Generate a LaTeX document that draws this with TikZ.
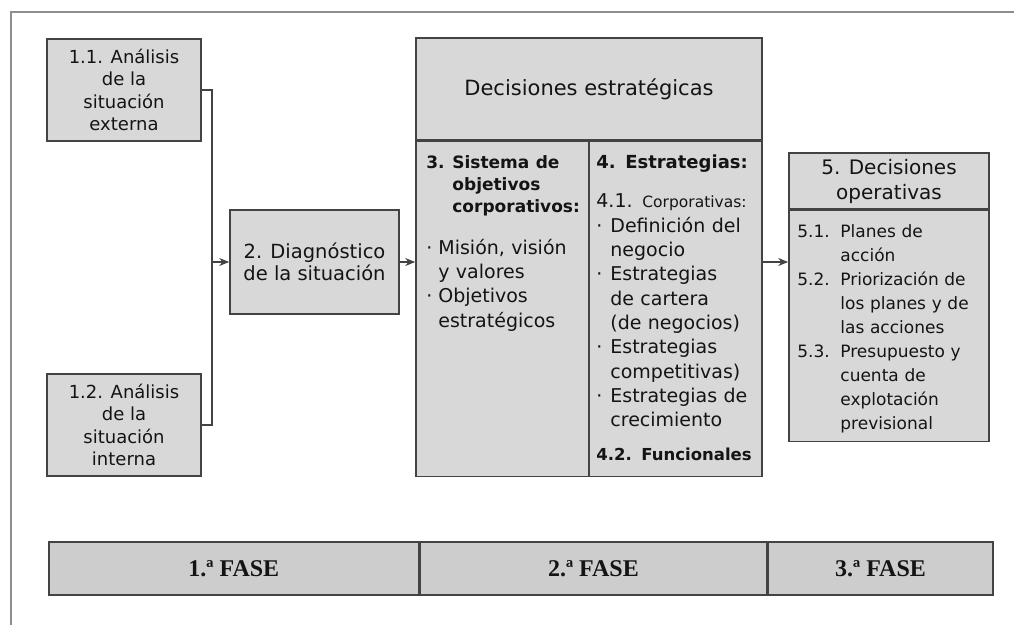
\documentclass[tikz,border=0pt]{standalone}
\usepackage{fontspec}
\setmainfont{DejaVu Sans}
\newfontfamily\phasefont{Liberation Serif}
\usetikzlibrary{arrows.meta,positioning,calc}
\definecolor{boxgray}{HTML}{D8D8D8}
\definecolor{bargray}{HTML}{CDCDCD}
\definecolor{edge}{HTML}{434343}
\definecolor{framegray}{HTML}{8E8E8E}
\definecolor{ink}{HTML}{141414}
\newcommand{\listline}[3]{\hangindent=#1\hangafter=1\noindent\makebox[#1][l]{#2}#3\par}
\newcommand{\headfont}{\bfseries\fontsize{17}{22}\selectfont}
\newcommand{\corpfont}{\fontsize{15.5}{24}\selectfont}

\begin{document}
\begin{tikzpicture}[x=1pt, y=-1pt, font=\fontsize{19}{24.3}\selectfont,
  >={Stealth[length=10pt,width=8pt]},
  box/.style={draw=edge, line width=1.6pt, fill=boxgray, align=center, inner sep=0pt, text=ink},
  txt/.style={align=left, inner sep=0pt, text=ink, anchor=north west},
  flow/.style={->, line width=1.5pt, draw=edge},
  link/.style={line width=1.5pt, draw=edge},
  phase/.style={box, fill=bargray, minimum height=53pt, font=\phasefont\bfseries\fontsize{24}{28}\selectfont}]

\useasboundingbox (0,0) rectangle (1014,625);
\draw[framegray, line width=2.2pt] (1014,12) -- (11,12) -- (11,625);

% ---------------- phase 1: analysis and diagnosis
\node[box, minimum width=154pt, minimum height=102pt, font=\fontsize{18}{22.4}\selectfont] (ext) at (124,90)
  {1.1. Análisis\\de la\\situación\\externa};
\node[box, minimum width=154pt, minimum height=102pt, font=\fontsize{18}{22.4}\selectfont] (int) at (124,425)
  {1.2. Análisis\\de la\\situación\\interna};
\node[box, minimum width=169pt, minimum height=104pt, font=\fontsize{19.5}{21.5}\selectfont] (diag) at (314.5,262)
  {2. Diagnóstico\\de la situación};
\coordinate (join) at (212,262);
\draw[link] (ext.east) -- (ext.east -| join) -- (int.east -| join) -- (int.east);
\draw[flow] (join) -- (diag.west);

% ---------------- phase 2: strategic decisions
\node[box, minimum width=346pt, minimum height=102pt, font=\fontsize{21}{24}\selectfont] (dec) at (589,89)
  {Decisiones estratégicas};
\node[box, minimum width=173pt, minimum height=335pt, anchor=north west] (obj) at (dec.south west) {};
\node[box, minimum width=173pt, minimum height=335pt, anchor=north east] (est) at (dec.south east) {};
\node[txt, text width=158pt] (objtxt) at ($(obj.north west)+(11,15)$)
  {{\headfont\listline{26pt}{3.}{Sistema de\newline objetivos\newline corporativos:}}
   \vspace{17pt}
   \listline{12pt}{·}{Misión, visión\newline y valores}
   \listline{12pt}{·}{Objetivos\newline estratégicos}};
\node[txt, text width=162pt] (esttxt) at ($(est.north west)+(8,14)$)
  {{\bfseries\fontsize{18}{22}\selectfont\noindent 4. Estrategias:\par}
   \vspace{15pt}
   \noindent\makebox[46pt][l]{4.1.}{\corpfont Corporativas:}\par
   \listline{14pt}{·}{Definición del\newline negocio}
   \listline{14pt}{·}{Estrategias\newline de cartera\newline (de negocios)}
   \listline{14pt}{·}{Estrategias\newline competitivas)}
   \listline{14pt}{·}{Estrategias de\newline crecimiento}
   \vspace{10pt}
   {\bfseries\fontsize{16.5}{24}\selectfont\noindent 4.2. Funcionales\par}};
\draw[flow] (diag.east) -- (diag.east -| obj.west);

% ---------------- phase 3: operative decisions
\node[box, minimum width=200pt, minimum height=56pt, font=\fontsize{20}{25}\selectfont] (ophead) at (889,181)
  {5. Decisiones\\operativas};
\node[box, minimum width=200pt, minimum height=231pt, anchor=north] (opbody) at (ophead.south) {};
\node[txt, text width=186pt, font=\fontsize{17}{23.9}\selectfont] (optxt) at ($(opbody.north west)+(9,15)$)
  {\listline{43pt}{5.1.}{Planes de\newline acción}
   \listline{43pt}{5.2.}{Priorización de\newline los planes y de\newline las acciones}
   \listline{43pt}{5.3.}{Presupuesto y\newline cuenta de\newline explotación\newline previsional}};
\draw[flow] (diag.east -| est.east) -- (diag.east -| opbody.west);

% ---------------- phase bar
\node[phase, minimum width=370pt, anchor=north west] (fase1) at (48,541) {1.ª FASE};
\node[phase, minimum width=346pt, anchor=north west] (fase2) at (fase1.north east) {2.ª FASE};
\node[phase, minimum width=225pt, anchor=north west] (fase3) at (fase2.north east) {3.ª FASE};
\end{tikzpicture}
\end{document}
